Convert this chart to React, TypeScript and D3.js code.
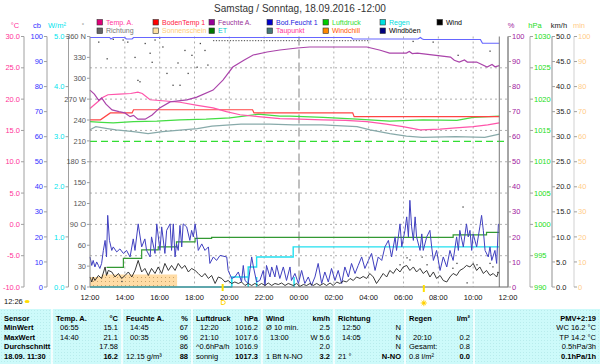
import React from "react";
import * as d3 from "d3";

// ---------- data (minutes since 12:00, value) ----------
const timeLabels = ["12:00", "14:00", "16:00", "18:00", "20:00", "22:00", "00:00", "02:00", "04:00", "06:00", "08:00", "10:00", "12:00"];

const tempTicks = [-10, -5, 0, 5, 10, 15, 20, 25, 30];
const tempLabels = ["-10.0", "-5.0", "0.0", "5.0", "10.0", "15.0", "20.0", "25.0", "30.0"];
const cbTicks = [0, 10, 20, 30, 40, 50, 60, 70, 80, 90, 100];
const wmTicks = [0, 1, 2, 3, 4, 5];
const wmLabels = ["0.0", "1.0", "2.0", "3.0", "4.0", "5.0"];
const dirTicks = [0, 30, 60, 90, 120, 150, 180, 210, 240, 270, 300, 330, 360];
const dirLabels = ["0 N", "30", "60", "90  O", "120", "150", "180 S", "210", "240", "270 W", "300", "330", "360 N"];
const pctTicks = [0, 10, 20, 30, 40, 50, 60, 70, 80, 90, 100];
const hpaTicks = [990, 995, 1000, 1005, 1010, 1015, 1020, 1025, 1030];
const kmhTicks = [0, 5, 10, 15, 20, 25, 30, 35, 40, 45, 50];
const kmhLabels = ["0.0", "5.0", "10.0", "15.0", "20.0", "25.0", "30.0", "35.0", "40.0", "45.0", "50.0"];
const minTicks = [0, 10, 20, 30, 40, 50, 60, 70, 80, 90, 100];

const tempA: [number, number][] = [
  [0, 18.5], [20, 19.3], [45, 20.3], [62, 20.7], [100, 20.8], [140, 20.9], [165, 21.1], [180, 20.9],
  [207, 19.9], [260, 19.7], [310, 19.5], [370, 19.0], [424, 18.6], [470, 18.0], [517, 17.5], [580, 17.2],
  [654, 16.9], [723, 16.8], [800, 16.7], [880, 16.6], [954, 16.4], [1020, 16.0], [1078, 15.6], [1137, 15.1],
  [1206, 15.2], [1260, 15.4], [1320, 15.6], [1370, 15.9], [1410, 16.2],
];
const bodenTemp: [number, number][] = [
  [0, 16.7], [36, 16.7], [70, 17.8], [145, 17.8], [150, 18.3], [560, 18.3], [565, 17.8], [905, 17.8], [910, 17.2], [1410, 17.2],
];
const taupunkt: [number, number][] = [
  [0, 15.1], [20, 15.6], [60, 15.3], [90, 15.1], [150, 14.8], [200, 14.5], [250, 14.8], [320, 15.1],
  [370, 15.3], [420, 15.7], [520, 16.0], [620, 16.0], [700, 15.9], [800, 15.9], [920, 15.6], [965, 15.1],
  [1033, 14.5], [1090, 14.1], [1145, 13.9], [1260, 14.0], [1360, 13.9], [1410, 14.4],
];
const feuchte: [number, number][] = [
  [0, 78.6], [15, 77.0], [30, 74.5], [40, 75.5], [55, 73.0], [76, 70.7], [100, 70.0], [120, 69.5],
  [138, 68.0], [150, 68.5], [165, 67.0], [190, 67.0], [214, 68.7], [240, 71.5], [276, 73.9], [334, 74.7],
  [368, 75.8], [424, 78.6], [458, 82.6], [492, 87.8], [530, 90.5], [562, 92.6], [610, 93.8], [654, 94.6],
  [714, 95.4], [756, 95.8], [954, 95.8], [1000, 94.5], [1032, 93.4], [1090, 93.4], [1100, 94.0], [1110, 93.2],
  [1128, 93.4], [1242, 91.8], [1255, 90.5], [1272, 89.8], [1290, 90.6], [1300, 89.8], [1332, 89.8],
  [1368, 87.8], [1385, 88.8], [1395, 87.9], [1410, 88.4],
];
const bodFeucht: [number, number][] = [
  [0, 99.6], [68, 99.6], [72, 99.0], [80, 99.6], [120, 99.6], [125, 99.0], [145, 99.0], [150, 99.6],
  [900, 99.6], [905, 99.0], [1130, 99.0], [1138, 99.6], [1145, 99.0], [1150, 98.8], [1345, 98.8], [1352, 97.3], [1410, 97.3],
];
const luftdruck: [number, number][] = [
  [0, 1016.4], [40, 1016.3], [80, 1016.2], [150, 1016.4], [230, 1016.5], [310, 1016.7], [400, 1016.8],
  [482, 1017.0], [550, 1017.4], [580, 1017.6], [654, 1017.3], [689, 1017.3], [803, 1017.1], [920, 1016.8],
  [1033, 1016.5], [1147, 1016.7], [1264, 1016.6], [1320, 1017.1], [1410, 1017.3],
];
const normalDruck = 1013.25;
const et: [number, number][] = [
  [57, 0.39], [115, 0.57], [178, 0.74], [235, 0.8], [298, 0.9], [362, 0.97], [419, 0.99], [1251, 1.04], [1366, 1.09], [1410, 1.09],
];
const regenSumme: [number, number][] = [
  [0, 0], [488, 0.2], [545, 0.4], [574, 0.6], [700, 0.8], [1410, 0.8],
];
const regenMenge: [number, number][] = [[488, 0.2], [545, 0.2], [574, 0.2], [703, 0.2]];
const sonne = [4, 4, 4, 4, 5, 5, 5, 5, 5, 5, 5, 5, 5, 5, 5, 5, 5, 5, 5, 5, 5, 5, 5, 5, 5, 5, 5, 5, 5, 5, 5];

const boeen: [number, number][] = [
  [0, 6.0], [6, 4.3], [11, 5.3], [17, 4.0], [23, 5.0], [29, 4.3], [34, 3.7], [40, 4.7], [46, 7.3], [52, 9.3],
  [57, 6.0], [61, 14.3], [67, 9.3], [75, 7.3], [80, 8.0], [92, 7.0], [103, 7.6], [115, 6.7], [126, 7.3], [138, 6.0],
  [149, 9.6], [155, 7.3], [166, 12.6], [178, 8.0], [189, 9.6], [195, 7.3], [207, 6.0], [212, 10.0], [224, 6.7],
  [230, 12.6], [241, 7.3], [247, 12.0], [258, 6.7], [264, 11.3], [276, 12.6], [281, 7.3], [287, 12.6], [293, 6.0],
  [298, 8.6], [304, 7.3], [310, 12.3], [316, 8.0], [321, 12.6], [333, 12.0], [344, 9.3], [350, 11.3], [356, 10.0],
  [362, 12.6], [367, 10.6], [373, 7.3], [385, 8.6], [396, 7.3], [408, 8.0], [413, 4.7], [425, 6.0], [436, 5.3],
  [448, 6.3], [471, 6.0], [476, 3.3], [488, 1.7], [499, 2.0], [511, 3.0], [522, 1.0], [528, 4.3], [534, 1.3],
  [545, 0.7], [557, 6.0], [563, 4.0], [574, 1.0], [585, 1.3], [597, 3.3], [603, 0.3], [608, 4.3], [620, 2.0],
  [626, 4.0], [637, 2.0], [643, 4.3], [654, 1.7], [666, 4.0], [677, 1.3], [689, 4.0], [694, 1.3], [706, 2.7],
  [718, 0.7], [729, 3.3], [740, 0.7], [752, 2.0], [763, 0.3], [775, 2.0], [786, 4.7], [798, 0.7], [809, 3.0],
  [821, 1.0], [832, 3.7], [844, 1.3], [855, 3.3], [867, 0.7], [878, 4.0], [890, 2.0], [901, 4.7], [913, 2.7],
  [924, 4.3], [936, 6.0], [947, 3.7], [959, 5.3], [970, 6.7], [982, 3.3], [993, 6.0], [1005, 5.3], [1016, 8.0],
  [1028, 9.3], [1039, 6.0], [1051, 10.0], [1056, 7.3], [1068, 12.6], [1074, 8.0], [1085, 11.3], [1091, 14.0],
  [1097, 10.0], [1102, 17.3], [1108, 12.0], [1114, 9.3], [1120, 14.0], [1125, 10.0], [1137, 7.3], [1143, 10.6],
  [1148, 7.3], [1160, 10.0], [1171, 11.3], [1177, 8.0], [1183, 5.3], [1194, 7.3], [1206, 3.3], [1217, 6.0],
  [1229, 4.0], [1240, 7.3], [1251, 5.3], [1263, 10.0], [1269, 7.3], [1274, 11.3], [1286, 8.0], [1297, 12.6],
  [1303, 10.0], [1309, 11.3], [1315, 7.3], [1320, 10.6], [1332, 8.0], [1343, 12.0], [1349, 14.3], [1355, 11.3],
  [1361, 7.3], [1372, 6.0], [1378, 8.0], [1384, 5.3], [1395, 7.3], [1401, 4.7], [1407, 12.6],
];
const wind: [number, number][] = [
  [0, 2.0], [6, 1.0], [11, 2.0], [17, 1.3], [29, 2.3], [40, 1.7], [52, 4.0], [57, 2.3], [63, 3.3], [75, 3.0],
  [86, 2.0], [98, 2.7], [109, 1.7], [121, 2.3], [132, 3.0], [144, 2.0], [155, 3.3], [166, 5.3], [178, 3.0],
  [189, 3.7], [201, 2.3], [212, 3.7], [224, 2.7], [235, 4.0], [247, 2.7], [258, 4.7], [270, 3.3], [281, 4.3],
  [293, 3.3], [304, 4.7], [316, 3.7], [327, 4.3], [339, 3.0], [350, 3.7], [362, 3.3], [373, 2.7], [385, 2.0],
  [396, 2.7], [408, 1.7], [419, 2.3], [431, 0.7], [442, 2.0], [454, 1.7], [465, 1.0], [476, 1.3], [488, 0.7],
  [499, 1.0], [511, 0.7], [522, 1.0], [534, 0.3], [545, 0.7], [557, 0.3], [568, 0.7], [580, 0.3], [591, 0.7],
  [603, 0.3], [614, 0.8], [626, 0.3], [637, 0.7], [649, 0.5], [660, 0.8], [672, 0.3], [683, 0.7], [700, 0.3],
  [712, 0.7], [723, 0.1], [735, 0.5], [746, 0.3], [758, 0.7], [769, 0.3], [781, 0.7], [792, 0.3], [804, 0.7],
  [815, 0.3], [827, 0.8], [838, 0.3], [850, 1.0], [861, 0.7], [873, 1.2], [884, 1.0], [896, 1.7], [907, 1.3],
  [918, 2.0], [930, 1.7], [941, 2.1], [953, 1.7], [964, 2.7], [976, 2.0], [987, 0.7], [999, 1.7], [1010, 2.7],
  [1022, 2.0], [1033, 3.3], [1045, 2.7], [1056, 3.7], [1068, 3.0], [1079, 4.0], [1091, 4.3], [1102, 3.3],
  [1114, 4.0], [1125, 3.0], [1137, 3.7], [1148, 2.7], [1160, 3.3], [1171, 2.0], [1183, 3.0], [1194, 1.7],
  [1206, 2.3], [1217, 1.3], [1229, 1.0], [1240, 2.0], [1251, 2.7], [1263, 2.3], [1274, 3.3], [1286, 3.7],
  [1297, 4.3], [1309, 4.0], [1320, 4.7], [1332, 3.3], [1343, 4.0], [1355, 2.7], [1366, 3.3], [1378, 2.3],
  [1389, 2.7], [1401, 2.0], [1407, 3.0],
];
const richtung: [number, number][] = [
  [30, 352], [59, 328], [80, 356], [114, 355], [130, 352], [155, 330], [165, 297], [172, 295], [190, 350],
  [207, 336], [214, 323], [224, 355], [240, 358], [251, 345], [265, 307], [286, 290], [303, 322], [310, 290],
  [327, 340], [338, 307], [351, 333], [369, 316], [380, 350], [396, 340], [406, 319], [60, 20], [110, 8],
  [1068, 32], [1092, 42], [1102, 39], [1113, 353], [1144, 43], [1161, 32], [1182, 352], [1250, 27], [1264, 34],
  [1268, 333], [1285, 115], [1299, 6], [1333, 32], [1378, 34], [1378, 339], [1388, 29], [1405, 21],
];
const richtungN: [number, number][] = [[424, 354], [965, 354]];

const legend = [
  { name: "Temp. A.", sq: "#e0007a", tx: "#ff3399", c: 0, r: 0 },
  { name: "BodenTemp 1", sq: "#ff0000", tx: "#ff2244", c: 1, r: 0 },
  { name: "Feuchte A.", sq: "#990099", tx: "#993399", c: 2, r: 0 },
  { name: "Bod.Feucht 1", sq: "#0000cc", tx: "#2222dd", c: 3, r: 0 },
  { name: "Luftdruck", sq: "#00cc00", tx: "#33dd33", c: 4, r: 0 },
  { name: "Regen", sq: "#00e0e0", tx: "#00dddd", c: 5, r: 0 },
  { name: "Wind", sq: "#000000", tx: "#000000", c: 6, r: 0 },
  { name: "Richtung", sq: "#666666", tx: "#777777", c: 0, r: 1 },
  { name: "Sonnenschein", sq: "#ffe0a0", tx: "#ffcc77", c: 1, r: 1 },
  { name: "ET", sq: "#007700", tx: "#00cccc", c: 2, r: 1 },
  { name: "Taupunkt", sq: "#447777", tx: "#ff3399", c: 3, r: 1 },
  { name: "Windchill", sq: "#ff8800", tx: "#ff5500", c: 4, r: 1 },
  { name: "Windböen", sq: "#000080", tx: "#000000", c: 5, r: 1 },
];
const legendX = [97, 153, 209, 267, 323, 380, 437];

const tableCols = [0, 52, 122, 192, 262, 334, 405, 474, 600];
const tableRows = [
  [["Sensor", "", ""], ["Temp. A.", "", "°C"], ["Feuchte A.", "", "%"], ["Luftdruck", "", "hPa"], ["Wind", "", "km/h"], ["Richtung", "", ""], ["Regen", "", "l/m²"], ["", "", "PMV+2:19"]],
  [["MinWert", "", ""], ["", "06:55", "15.1"], ["", "14:45", "67"], ["", "12:20", "1016.2"], ["", "Ø 10 min.", "2.5"], ["", "12:50", "N"], ["", "", ""], ["", "", "WC 16.2 °C"]],
  [["MaxWert", "", ""], ["", "14:40", "21.1"], ["", "00:35", "96"], ["", "21:10", "1017.6"], ["", "13:00", "W 5.6"], ["", "14:05", "N"], ["", "20:10", "0.2"], ["", "", "TP 14.2 °C"]],
  [["Durchschnitt", "", ""], ["", "", "17.58"], ["", "", "86"], ["", "^0.6hPa/h", "1016.9"], ["", "", "2.0"], ["", "", "N"], ["", "Gesamt:", "0.8"], ["", "", "0.5hPa/3h"]],
  [["18.09. 11:30", "", ""], ["", "", "16.2"], ["", "12.15 g/m³", "88"], ["", "sonnig", "1017.3"], ["", "1 Bft N-NO", "3.2"], ["", "21 °", "N-NO"], ["", "0.8 l/m²", "0.0"], ["", "", "0.1hPa/1h"]],
];

// ---------- layout ----------
const PL = 90, PR = 508, PT = 36.5, PB = 287;
const FONT = "'Liberation Sans', Arial, sans-serif";

export default function App() {
  const x = d3.scaleLinear().domain([0, 1440]).range([PL, PR]);
  const yT = d3.scaleLinear().domain([-10, 30]).range([PB, PT]);
  const yCb = d3.scaleLinear().domain([0, 100]).range([PB, PT]);
  const yWm = d3.scaleLinear().domain([0, 5]).range([PB, PT]);
  const yDir = d3.scaleLinear().domain([0, 360]).range([PB, PT]);
  const yPct = d3.scaleLinear().domain([0, 100]).range([PB, PT]);
  const yHpa = d3.scaleLinear().domain([990, 1030]).range([PB, PT]);
  const yKmh = d3.scaleLinear().domain([0, 50]).range([PB, PT]);
  const yMin = d3.scaleLinear().domain([0, 100]).range([PB, PT]);

  const mk = (ys: d3.ScaleLinear<number, number>, curve = d3.curveLinear) =>
    d3.line<[number, number]>().x((d) => x(d[0])).y((d) => ys(d[1])).curve(curve);

  const sunArea = d3
    .area<number>()
    .x((_, i) => x(i * 10))
    .y0(PB)
    .y1((d) => yMin(d))
    .curve(d3.curveStepAfter);

  const leftAxis = (x0: number, ys: any, ticks: number[], labels: string[], color: string, key: string) => (
    <g key={key}>
      <line x1={x0} x2={x0} y1={PT} y2={PB} stroke="#a0a0a0" />
      {ticks.map((t, i) => (
        <g key={i}>
          <line x1={x0 - 3} x2={x0} y1={ys(t)} y2={ys(t)} stroke="#a0a0a0" />
          <text x={x0 - 4} y={ys(t)} dy="0.35em" textAnchor="end" fill={color} fontSize={7.5}>
            {labels[i]}
          </text>
        </g>
      ))}
    </g>
  );
  const rightAxis = (x0: number, ys: any, ticks: number[], labels: string[], color: string, key: string, lineColor: string, lw: number) => (
    <g key={key}>
      <line x1={x0} x2={x0} y1={PT} y2={PB} stroke={lineColor} strokeWidth={lw} />
      {ticks.map((t, i) => (
        <g key={i}>
          <line x1={x0} x2={x0 + 3} y1={ys(t)} y2={ys(t)} stroke="#a0a0a0" />
          <text x={x0 + 4} y={ys(t)} dy="0.35em" textAnchor="start" fill={color} fontSize={7.5}>
            {labels[i]}
          </text>
        </g>
      ))}
    </g>
  );

  const rowY = [318, 327.5, 337, 346.3, 356];
  const sunX = x(1150);
  const setX = x(457);

  return (
    <svg width={600} height={364} style={{ position: "absolute", left: 0, top: 0, background: "#fff" }} fontFamily={FONT}>
      <defs>
        <pattern id="tdots" width="3" height="3" patternUnits="userSpaceOnUse">
          <rect width="3" height="3" fill="#cdfafa" />
          <rect x="1" y="1" width="1" height="1" fill="#b8ecec" />
        </pattern>
        <pattern id="sdots" width="4" height="4" patternUnits="userSpaceOnUse">
          <rect width="4" height="4" fill="#ffdca6" />
          <rect x="1" y="1" width="1" height="1" fill="#c9a46a" />
        </pattern>
      </defs>

      {/* title */}
      <text x={300} y={12} textAnchor="middle" fontSize={10} fill="#333">
        Samstag / Sonntag, 18.09.2016 -12:00
      </text>

      {/* legend */}
      {legend.map((l) => (
        <g key={l.name}>
          <rect x={legendX[l.c]} y={l.r ? 28 : 19.5} width={5.5} height={5.5} fill={l.sq} stroke="#333" strokeWidth={0.6} />
          <text x={legendX[l.c] + 9} y={l.r ? 31 : 22.5} dy="0.35em" fontSize={7} fill={l.tx}>
            {l.name}
          </text>
        </g>
      ))}

      {/* axis unit headers */}
      <text x={15} y={28} textAnchor="middle" fontSize={7.5} fill="#ff3399">°C</text>
      <text x={37} y={28} textAnchor="middle" fontSize={7.5} fill="#3333ff">cb</text>
      <text x={57} y={28} textAnchor="middle" fontSize={7.5} fill="#00e5ee">W/m²</text>
      <text x={83} y={27} textAnchor="middle" fontSize={6} fill="#777">°</text>
      <text x={511} y={28} textAnchor="middle" fontSize={7.5} fill="#a020a0">%</text>
      <text x={535} y={28} textAnchor="middle" fontSize={7.5} fill="#22dd22">hPa</text>
      <text x={559} y={28} textAnchor="middle" fontSize={7.5} fill="#222">km/h</text>
      <text x={579} y={28} textAnchor="middle" fontSize={7.5} fill="#ffcc88">min</text>

      {/* grid */}
      {tempTicks.slice(1, -1).map((t) => (
        <line key={"h" + t} x1={PL} x2={PR} y1={yT(t)} y2={yT(t)} stroke="#999" strokeDasharray="2,3" strokeWidth={0.8} />
      ))}
      {timeLabels.map((_, i) =>
        i === 0 || i === 12 || i === 6 ? null : (
          <line key={"v" + i} x1={x(i * 120)} x2={x(i * 120)} y1={PT} y2={PB} stroke="#999" strokeDasharray="2,3" strokeWidth={0.8} />
        )
      )}
      <line x1={x(720)} x2={x(720)} y1={PT} y2={PB} stroke="#aaa" strokeDasharray="9,4" strokeWidth={1.5} />

      {/* sunshine */}
      <path d={sunArea(sonne) || ""} fill="url(#sdots)" />

      {/* pressure normal line */}
      <line x1={PL} x2={PR} y1={yHpa(normalDruck)} y2={yHpa(normalDruck)} stroke="#33dd33" strokeWidth={1.2} strokeDasharray="7,4" />

      {/* direction */}
      {richtung.map((d, i) => (
        <rect key={"d" + i} x={x(d[0]) - 0.6} y={yDir(d[1]) - 0.6} width={1.3} height={1.3} fill="#444" />
      ))}
      <path d={mk(yDir)(richtungN) || ""} stroke="#444" strokeWidth={1} strokeDasharray="1.2,1.6" fill="none" />

      {/* lines */}
      <path d={mk(yT)(taupunkt) || ""} stroke="#88aaaa" strokeWidth={1.2} fill="none" />
      <path d={mk(yHpa)(luftdruck) || ""} stroke="#44dd44" strokeWidth={1.2} fill="none" />
      <path d={mk(yT)(bodenTemp) || ""} stroke="#ff4444" strokeWidth={1.2} fill="none" />
      <path d={mk(yT)(tempA) || ""} stroke="#ff55aa" strokeWidth={1.2} fill="none" />
      <path d={mk(yPct)(feuchte) || ""} stroke="#aa44aa" strokeWidth={1.2} fill="none" />
      <path d={mk(yPct)(bodFeucht) || ""} stroke="#6666ff" strokeWidth={1.2} fill="none" />
      <path d={mk(yWm, d3.curveStepAfter)(et) || ""} stroke="#339933" strokeWidth={1.2} fill="none" />
      {regenMenge.map((d, i) => (
        <line key={"r" + i} x1={x(d[0])} x2={x(d[0])} y1={yWm(0)} y2={yWm(d[1])} stroke="#22e0f0" strokeWidth={1.5} />
      ))}
      <path d={mk(yWm, d3.curveStepAfter)(regenSumme) || ""} stroke="#22e0f0" strokeWidth={1.4} fill="none" />
      <path d={mk(yKmh)(boeen) || ""} stroke="#4040c0" strokeWidth={1} fill="none" />
      <path d={mk(yKmh)(wind) || ""} stroke="#222" strokeWidth={0.9} fill="none" />

      {/* end-of-data marker */}
      <line x1={x(1410)} x2={x(1410)} y1={PT} y2={PB} stroke="#777" strokeWidth={1} />

      {/* frame */}
      <line x1={PL} x2={PL} y1={PT} y2={PB} stroke="#888" />
      <line x1={PR} x2={PR} y1={PT} y2={PB} stroke="#888" />
      <line x1={PL} x2={PR} y1={PB} y2={PB} stroke="#666" />

      {/* left axes */}
      {leftAxis(24, yT, tempTicks, tempLabels, "#ff3399", "t")}
      {leftAxis(47, yCb, cbTicks, cbTicks.map(String), "#3333ff", "cb")}
      {leftAxis(68.5, yWm, wmTicks, wmLabels, "#00e5ee", "wm")}
      {dirTicks.map((t, i) => (
        <g key={"dt" + i}>
          <line x1={PL - 3} x2={PL} y1={yDir(t)} y2={yDir(t)} stroke="#a0a0a0" />
          <text x={PL - 4} y={yDir(t)} dy="0.35em" textAnchor="end" fill="#555" fontSize={7.5}>
            {dirLabels[i]}
          </text>
        </g>
      ))}

      {/* right axes */}
      {rightAxis(PR, yPct, pctTicks, pctTicks.map(String), "#a020a0", "p", "#888", 1)}
      {rightAxis(530, yHpa, hpaTicks, hpaTicks.map(String), "#22dd22", "h", "#c8c8c8", 1.5)}
      {rightAxis(552, yKmh, kmhTicks, kmhLabels, "#222", "k", "#c8c8c8", 2)}
      {rightAxis(574, yMin, minTicks, minTicks.map(String), "#ffcc88", "m", "#e0e0e0", 1.5)}

      {/* time axis */}
      {timeLabels.map((l, i) => (
        <text key={"tl" + i} x={x(i * 120)} y={297} dy="0.35em" textAnchor="middle" fontSize={7.5} fill="#111">
          {l}
        </text>
      ))}

      {/* sun markers */}
      <text x={4} y={301} dy="0.35em" fontSize={7.5} fill="#111">12:26</text>
      <ellipse cx={27} cy={301.5} rx={2.5} ry={1.5} fill="#ffdd00" />
      <line x1={setX} x2={setX} y1={284} y2={291} stroke="#ffe000" strokeWidth={2} />
      <path d={`M${setX - 1.5},300.5 h2 a2,2 0 0 1 0,4 h-2 z`} fill="none" stroke="#ffd000" strokeWidth={0.9} />
      <line x1={sunX} x2={sunX} y1={285} y2={292} stroke="#ffe000" strokeWidth={2} />
      <circle cx={sunX} cy={303} r={1.6} fill="#ffd000" />
      {[0, 45, 90, 135].map((a) => (
        <line
          key={"ray" + a}
          x1={sunX - 3.2 * Math.cos((a * Math.PI) / 180)}
          x2={sunX + 3.2 * Math.cos((a * Math.PI) / 180)}
          y1={303 - 3.2 * Math.sin((a * Math.PI) / 180)}
          y2={303 + 3.2 * Math.sin((a * Math.PI) / 180)}
          stroke="#ffd000"
          strokeWidth={0.8}
        />
      ))}

      {/* table */}
      <rect x={0} y={309} width={600} height={55} fill="url(#tdots)" />
      {tableCols.slice(1, -1).map((cx) => (
        <line key={"tc" + cx} x1={cx} x2={cx} y1={309} y2={364} stroke="#fff" strokeWidth={1.5} />
      ))}
      {tableRows.map((row, ri) =>
        row.map((cell, ci) => {
          const left = tableCols[ci];
          const right = tableCols[ci + 1];
          const bold = ri === 0 || ci === 0;
          const y = rowY[ri];
          return (
            <g key={ri + "-" + ci} fontSize={7.5} fill="#000">
              {cell[0] && (
                <text x={left + 4} y={y} dy="0.35em" fontWeight="bold">
                  {cell[0]}
                </text>
              )}
              {cell[1] && (
                <text x={left + (ri === 4 || cell[1].length > 6 ? 4 : 8)} y={y} dy="0.35em">
                  {cell[1]}
                </text>
              )}
              {cell[2] && (
                <text x={right - 4} y={y} dy="0.35em" textAnchor="end" fontWeight={bold || ri === 4 ? "bold" : "normal"}>
                  {cell[2]}
                </text>
              )}
            </g>
          );
        })
      )}
    </svg>
  );
}
